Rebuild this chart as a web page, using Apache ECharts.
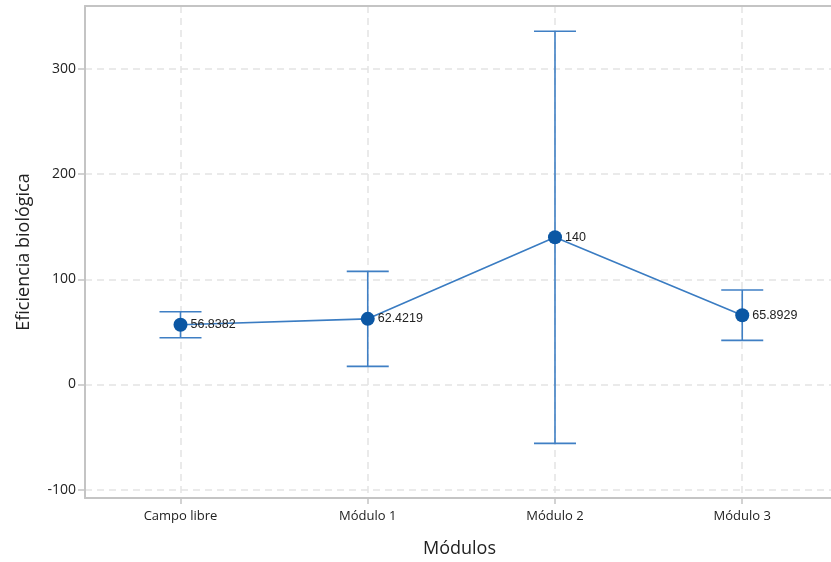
<!DOCTYPE html>
<html>
<head>
<meta charset="utf-8">
<script src="https://cdn.jsdelivr.net/npm/echarts@6/dist/echarts.min.js"></script>
<style>
html,body{margin:0;padding:0;background:#fff;}
#chart{width:831px;height:562px;}
</style>
</head>
<body>
<div id="chart"></div>
<script>
const categories = ['Campo libre', 'Módulo 1', 'Módulo 2', 'Módulo 3'];
const means = [56.8382, 62.4219, 140, 65.8929];
const meanLabels = ['56.8382', '62.4219', '140', '65.8929'];
const lowerBounds = [44.5, 17.2, -56.0, 41.9];
const upperBounds = [69.2, 107.6, 336.0, 89.9];

const chart = echarts.init(document.getElementById('chart'), null, {renderer: 'canvas'});
const fontFam = '"Open Sans", "Noto Sans", sans-serif';
const frameColor = '#c4c4c4';
const gridLine = {show: true, showMinLine: false, showMaxLine: false, lineStyle: {color: '#e3e3e3', width: 1.5, type: [7, 5]}};

const lineData = means.map((v, i) => [i, v]);
const errData = means.map((v, i) => [i, lowerBounds[i], upperBounds[i]]);

const option = {
  backgroundColor: '#ffffff',
  animation: false,
  grid: {left: 85, right: -3, top: 6, bottom: 64, show: false, containLabel: false, outerBoundsMode: 'none'},
  xAxis: [{
    type: 'value',
    min: -0.51, max: 3.49,
    splitNumber: 4,
    name: 'Módulos',
    nameLocation: 'middle',
    nameGap: 42,
    nameTextStyle: {fontFamily: fontFam, fontSize: 18, color: '#222'},
    axisLine: {show: true, onZero: false, lineStyle: {color: frameColor, width: 2}},
    axisTick: {show: true, length: 6, lineStyle: {color: frameColor, width: 1.5}},
    axisLabel: {
      showMinLabel: false, showMaxLabel: false,
      fontFamily: fontFam, fontSize: 13, fontWeight: 500, color: '#222', margin: 12,
      formatter: v => (Number.isInteger(v) && categories[v] !== undefined) ? categories[v] : ''
    },
    splitLine: gridLine
  }, {
    type: 'value',
    position: 'top',
    min: -0.51, max: 3.49,
    axisLine: {show: true, onZero: false, lineStyle: {color: frameColor, width: 2}},
    axisTick: {show: false},
    axisLabel: {show: false},
    splitLine: {show: false}
  }],
  yAxis: {
    type: 'value',
    min: -108, max: 360,
    splitNumber: 5,
    name: 'Eficiencia biológica',
    nameLocation: 'middle',
    nameGap: 52,
    nameTextStyle: {fontFamily: fontFam, fontSize: 18, color: '#222'},
    axisLine: {show: true, onZero: false, lineStyle: {color: frameColor, width: 2}},
    axisTick: {show: true, length: 7, lineStyle: {color: frameColor, width: 1.5}},
    axisLabel: {
      showMinLabel: false, showMaxLabel: false,
      fontFamily: fontFam, fontSize: 14, color: '#222', margin: 9
    },
    splitLine: gridLine
  },
  series: [
    {
      type: 'custom',
      data: errData,
      z: 2,
      renderItem: function (params, api) {
        const x = api.value(0);
        const lo = api.coord([x, api.value(1)]);
        const hi = api.coord([x, api.value(2)]);
        const half = 21;
        const st = {stroke: '#3f7fc4', lineWidth: 1.6};
        return {
          type: 'group',
          children: [
            {type: 'line', shape: {x1: hi[0], y1: hi[1], x2: lo[0], y2: lo[1]}, style: st},
            {type: 'line', shape: {x1: hi[0] - half, y1: hi[1], x2: hi[0] + half, y2: hi[1]}, style: st},
            {type: 'line', shape: {x1: lo[0] - half, y1: lo[1], x2: lo[0] + half, y2: lo[1]}, style: st}
          ]
        };
      },
      encode: {x: 0, y: [1, 2]}
    },
    {
      type: 'line',
      data: lineData,
      z: 3,
      symbol: 'circle',
      symbolSize: 14,
      lineStyle: {color: '#3a7cc2', width: 1.6},
      itemStyle: {color: '#0b57a4'},
      label: {
        show: true,
        position: 'right',
        distance: 3,
        fontFamily: '"Liberation Sans", Arial, sans-serif',
        fontSize: 12.5,
        color: '#222',
        formatter: p => meanLabels[p.dataIndex]
      }
    }
  ]
};
chart.setOption(option);
</script>
</body>
</html>
